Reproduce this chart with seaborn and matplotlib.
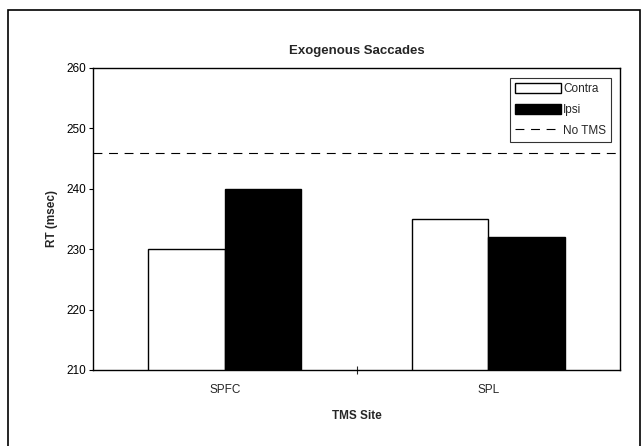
import matplotlib
matplotlib.use("Agg")
import matplotlib.pyplot as plt
import seaborn as sns
import pandas as pd
from matplotlib.patches import Rectangle

sites = ["SPFC", "SPL"]
contra = [230, 235]
ipsi = [240, 232]
no_tms = 246
yticks = [210, 220, 230, 240, 250, 260]

df = pd.DataFrame({
    "site": sites * 2,
    "rt": contra + ipsi,
    "side": ["Contra"] * len(sites) + ["Ipsi"] * len(sites),
})

sns.set_theme(style="white")
plt.rcParams["font.family"] = ["Liberation Sans", "DejaVu Sans"]

fig = plt.figure(figsize=(6.44, 4.46), dpi=100)
ax = fig.add_axes([93/644, 1 - 370/446, (620-93)/644, (370-68)/446])

sns.barplot(data=df, x="site", y="rt", hue="side",
            palette={"Contra": "white", "Ipsi": "black"},
            edgecolor="black", linewidth=1.0, width=0.58, ax=ax,
            legend=True)
ax.axhline(no_tms, color="black", lw=0.8, ls=(0, (8, 6)), label="No TMS")

ax.set_ylim(210, 260)
ax.set_xlim(-0.5, 1.5)
ax.set_yticks(yticks)
ax.tick_params(axis="y", direction="out", length=3, width=0.8, labelsize=8.5, pad=2, left=True, colors="black")
ax.tick_params(axis="x", which="major", length=0, labelsize=8.5, pad=10)
ax.set_xticks([0.5], minor=True)
ax.tick_params(axis="x", which="minor", direction="inout", length=6, width=0.8, bottom=True)
for s in ax.spines.values():
    s.set_visible(True)
    s.set_color("black")
    s.set_linewidth(1.0)

ax.set_title("Exogenous Saccades", fontsize=9.5, fontweight="bold", pad=10)
ax.set_xlabel("TMS Site", fontsize=8.5, fontweight="bold", labelpad=10)
ax.set_ylabel("RT (msec)", fontsize=8.5, fontweight="bold", labelpad=6)

handles, labels = ax.get_legend_handles_labels()
leg = ax.legend(handles, labels, loc="upper right", bbox_to_anchor=(0.99, 0.98),
                fontsize=8.5, frameon=True, fancybox=False, handlelength=3.9,
                handleheight=0.9, handletextpad=0.15, borderpad=0.45,
                labelspacing=0.75, borderaxespad=0.3)
leg.get_frame().set_edgecolor("black")
leg.get_frame().set_linewidth(0.8)

fig.patches.append(Rectangle((8/644, -0.05), (640-8)/644, 1.05 - 10/446,
                             transform=fig.transFigure, fill=False,
                             edgecolor="black", linewidth=1.2))

fig.savefig("out.png", dpi=100)
